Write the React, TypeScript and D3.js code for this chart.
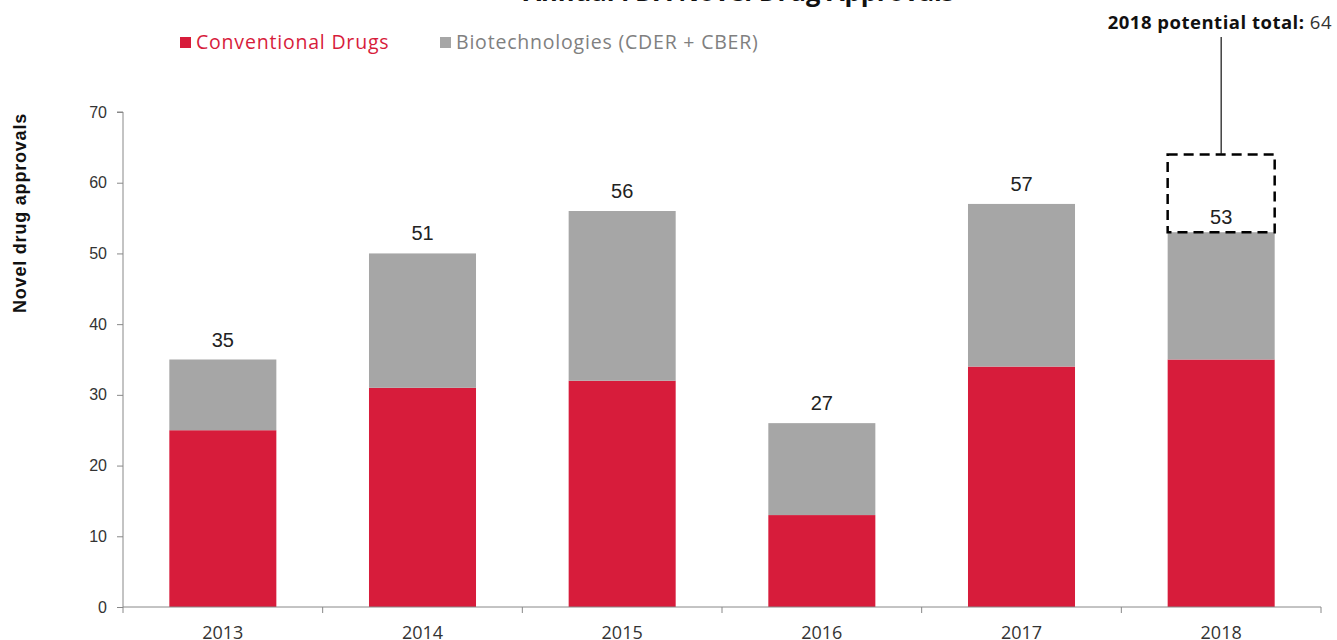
import { useEffect, useRef } from 'react'
import * as d3 from 'd3'

const years = ['2013', '2014', '2015', '2016', '2017', '2018']
const conventional = [25, 31, 32, 13, 34, 35]
const biotech = [10, 19, 24, 13, 23, 18]
const totalLabels = [35, 51, 56, 27, 57, 53]
const potentialTotal = 64
const yTicks = [0, 10, 20, 30, 40, 50, 60, 70]

const RED = '#d71c3b'
const GREY = '#a6a6a6'
const SANS = '"Open Sans", sans-serif'
const ARIAL = '"Liberation Sans", Arial, sans-serif'

export default function App() {
  const ref = useRef<SVGSVGElement | null>(null)

  useEffect(() => {
    const svg = d3.select(ref.current)
    svg.selectAll('*').remove()
    const width = 1337
    const left = 123
    const right = 1321
    const bottom = 607
    const top = 112

    const x = d3.scaleBand<string>().domain(years).range([left, right]).paddingInner(0.464).paddingOuter(0.232)
    const y = d3.scaleLinear().domain([0, 70]).range([bottom, top])
    const step = x.step()

    // title, cut off by the top of the frame
    svg.append('text')
      .attr('x', 739).attr('y', 1)
      .attr('text-anchor', 'middle')
      .attr('font-family', SANS).attr('font-weight', 700).attr('font-size', 25.5)
      .attr('fill', '#111')
      .text('Annual FDA Novel Drug Approvals')

    // legend
    const legend = [
      { label: 'Conventional Drugs', color: RED, text: RED, x: 180 },
      { label: 'Biotechnologies (CDER + CBER)', color: GREY, text: '#808080', x: 440 },
    ]
    const lg = svg.append('g')
    lg.selectAll('rect').data(legend).enter().append('rect')
      .attr('x', (d) => d.x).attr('y', 37).attr('width', 11).attr('height', 11)
      .attr('fill', (d) => d.color)
    lg.selectAll('text').data(legend).enter().append('text')
      .attr('x', (d) => d.x + 16).attr('y', 49)
      .attr('font-family', SANS).attr('font-size', 19.5).attr('letter-spacing', 0.8)
      .attr('fill', (d) => d.text)
      .text((d) => d.label)

    // y axis
    const yAxis = svg.append('g').attr('transform', `translate(${left},0)`)
      .call(d3.axisLeft(y).tickValues(yTicks).tickSize(6).tickPadding(10))
    yAxis.select('.domain').attr('stroke', '#888').attr('d', `M-6,${top}H0V${bottom}`)
    yAxis.selectAll('line').attr('stroke', '#888')
    yAxis.selectAll('text').attr('font-family', ARIAL).attr('font-size', 16).attr('fill', '#333')

    svg.append('text')
      .attr('transform', `translate(26,213) rotate(-90)`)
      .attr('text-anchor', 'middle')
      .attr('font-family', ARIAL).attr('font-weight', 700).attr('font-size', 18)
      .attr('letter-spacing', 0.8)
      .attr('fill', '#111')
      .text('Novel drug approvals')

    // stacked bars
    const data = years.map((yr, i) => ({ yr, conv: conventional[i], bio: biotech[i], label: totalLabels[i] }))
    svg.append('g').selectAll('rect').data(data).enter().append('rect')
      .attr('x', (d) => x(d.yr)!).attr('width', x.bandwidth())
      .attr('y', (d) => y(d.conv)).attr('height', (d) => y(0) - y(d.conv))
      .attr('fill', RED)
    svg.append('g').selectAll('rect').data(data).enter().append('rect')
      .attr('x', (d) => x(d.yr)!).attr('width', x.bandwidth())
      .attr('y', (d) => y(d.conv + d.bio)).attr('height', (d) => y(d.conv) - y(d.conv + d.bio))
      .attr('fill', GREY)
    svg.append('g').selectAll('text').data(data).enter().append('text')
      .attr('x', (d) => x(d.yr)! + x.bandwidth() / 2)
      .attr('y', (d) => y(d.conv + d.bio) - (d.yr === '2018' ? 8 : 13))
      .attr('text-anchor', 'middle')
      .attr('font-family', ARIAL).attr('font-size', 20)
      .attr('fill', '#222')
      .text((d) => d.label)

    // x axis, ticks sit between the categories
    const xg = svg.append('g')
    xg.append('line').attr('x1', left).attr('x2', right).attr('y1', bottom).attr('y2', bottom).attr('stroke', '#888')
    xg.selectAll('line.tick').data(d3.range(years.length + 1)).enter().append('line')
      .attr('class', 'tick')
      .attr('x1', (i) => left + i * step).attr('x2', (i) => left + i * step)
      .attr('y1', bottom).attr('y2', bottom + 6).attr('stroke', '#888')
    xg.selectAll('text').data(years).enter().append('text')
      .attr('x', (d) => x(d)! + x.bandwidth() / 2).attr('y', 639)
      .attr('text-anchor', 'middle')
      .attr('font-family', SANS).attr('font-size', 18)
      .attr('fill', '#333')
      .text((d) => d)

    // 2018 potential total box
    const last = years[years.length - 1]
    const bx = x(last)!
    const lastTotal = conventional[5] + biotech[5]
    svg.append('rect')
      .attr('x', bx).attr('width', x.bandwidth())
      .attr('y', y(potentialTotal)).attr('height', y(lastTotal) - y(potentialTotal))
      .attr('fill', 'none').attr('stroke', '#000').attr('stroke-width', 2.5)
      .attr('stroke-dasharray', '10,6')
    svg.append('line')
      .attr('x1', bx + x.bandwidth() / 2).attr('x2', bx + x.bandwidth() / 2)
      .attr('y1', 37).attr('y2', y(potentialTotal))
      .attr('stroke', '#111').attr('stroke-width', 1.2)
    const ann = svg.append('text')
      .attr('x', width - 5).attr('y', 29)
      .attr('text-anchor', 'end')
      .attr('font-family', SANS).attr('font-size', 18.5).attr('letter-spacing', 0.5)
      .attr('fill', '#111')
    ann.append('tspan').attr('font-weight', 700).text('2018 potential total:')
    ann.append('tspan').attr('fill', '#333').text(` ${potentialTotal}`)
  }, [])

  return (
    <svg
      ref={ref}
      width={1337}
      height={640}
      style={{ position: 'absolute', left: 0, top: 0, background: '#fff' }}
    />
  )
}
